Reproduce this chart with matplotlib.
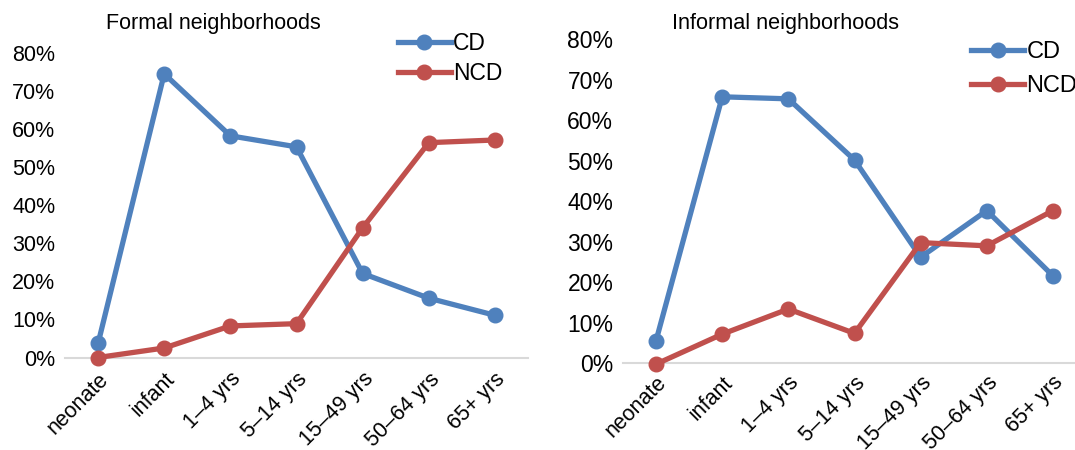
import matplotlib
matplotlib.use("Agg")
import matplotlib.pyplot as plt
from matplotlib.ticker import FuncFormatter

# ========================= DADOS =========================
age_groups = ["neonate", "infant", "1\u20134 yrs", "5\u201314 yrs",
              "15\u201349 yrs", "50\u201364 yrs", "65+ yrs"]

# Formal neighborhoods (% das mortes)
formal_cd = [3.7, 74.6, 58.3, 55.4, 22.1, 15.6, 11.1]
formal_ncd = [0.0, 2.5, 8.3, 8.9, 34.1, 56.5, 57.2]

# Informal neighborhoods
informal_cd = [5.6, 65.8, 65.3, 50.2, 26.2, 37.7, 21.6]
informal_ncd = [-0.2, 7.2, 13.4, 7.4, 29.8, 29.0, 37.7]

y_ticks = [0, 10, 20, 30, 40, 50, 60, 70, 80]

# ========================= ESTILO =========================
BLUE = "#4F81BD"
RED = "#C0504D"
GRID = "#D9D9D9"
plt.rcParams["font.family"] = ["Liberation Sans", "DejaVu Sans"]

W, H = 1075, 450
fig = plt.figure(figsize=(W / 100, H / 100), dpi=100)


def px_axes(x0, x1, y_top, y_bottom):
    """Posição do eixo a partir de pixels (origem em cima à esquerda)."""
    return [x0 / W, 1 - y_bottom / H, (x1 - x0) / W, (y_bottom - y_top) / H]


def draw_panel(ax, cd, ncd, fs, xfs, xpad):
    x = list(range(len(age_groups)))
    ax.plot(x, cd, color=BLUE, lw=3.8, marker="o", ms=10.5, label="CD",
            solid_joinstyle="round", clip_on=False, zorder=3)
    ax.plot(x, ncd, color=RED, lw=3.8, marker="o", ms=10.5, label="NCD",
            solid_joinstyle="round", clip_on=False, zorder=3)
    ax.set_xlim(-0.5, len(age_groups) - 0.5)
    ax.set_ylim(0, 80)
    ax.set_yticks(y_ticks)
    ax.yaxis.set_major_formatter(FuncFormatter(lambda v, p: f"{v:.0f}%"))
    ax.set_xticks(x)
    ax.set_xticklabels(age_groups, rotation=45, ha="right",
                       rotation_mode="anchor", fontsize=xfs)
    ax.tick_params(axis="y", length=0, pad=7, labelsize=fs)
    ax.tick_params(axis="x", length=0, pad=xpad)
    for s in ["top", "right", "left"]:
        ax.spines[s].set_visible(False)
    ax.spines["bottom"].set_color(GRID)
    ax.spines["bottom"].set_linewidth(1.5)
    ax.spines["bottom"].set_zorder(1)


# painel esquerdo
ax1 = fig.add_axes(px_axes(65, 528, 53.3, 357.5))
draw_panel(ax1, formal_cd, formal_ncd, 15.5, 15.5, 8)
fig.text(213 / W, 1 - 24 / H, "Formal neighborhoods", ha="center",
         va="center", fontsize=15.5)
ax1.legend(loc="upper left", bbox_to_anchor=(398 / W, 1 - 32 / H),
           bbox_transform=fig.transFigure, frameon=False, fontsize=16.5,
           handlelength=2.3, handletextpad=0.1, borderpad=0,
           borderaxespad=0, labelspacing=0.3)

# painel direito (cortado na borda direita, como no original)
ax2 = fig.add_axes(px_axes(623, 1086, 39.3, 363.3))
draw_panel(ax2, informal_cd, informal_ncd, 16.5, 15.5, 6.5)
fig.text(785 / W, 1 - 24 / H, "Informal neighborhoods", ha="center",
         va="center", fontsize=15.6)
ax2.legend(loc="upper left", bbox_to_anchor=(971 / W, 1 - 41 / H),
           bbox_transform=fig.transFigure, frameon=False, fontsize=17,
           handlelength=2.25, handletextpad=0.1, borderpad=0,
           borderaxespad=0, labelspacing=0.5)

fig.savefig("out.png", dpi=100)
